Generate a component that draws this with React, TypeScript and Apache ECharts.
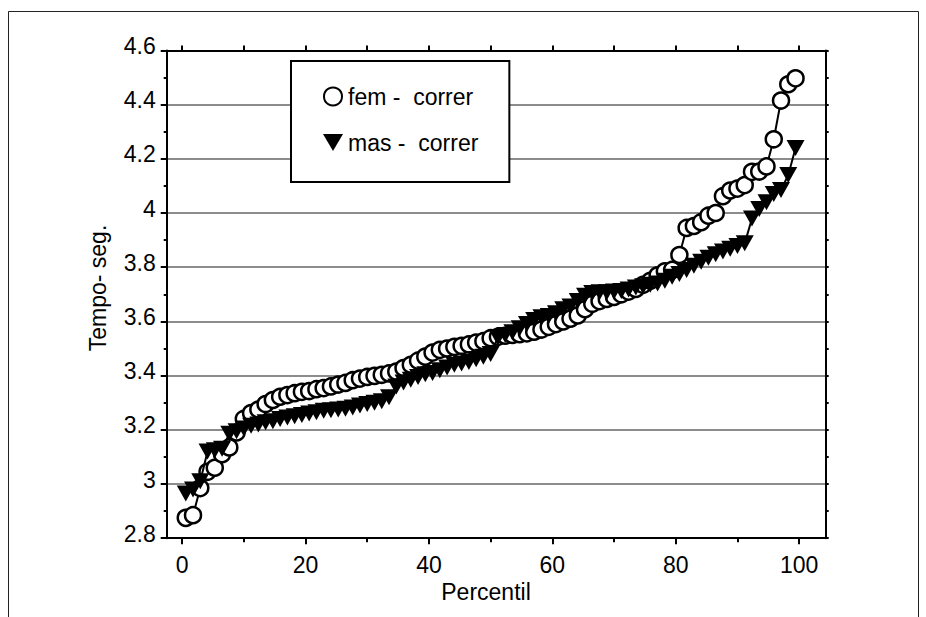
import { useEffect, useRef } from "react";
import * as echarts from "echarts";

// Tempo (s) per percentile rank
const femCorrer = [
  2.875, 2.885, 2.985, 3.045, 3.06, 3.11, 3.135, 3.19, 3.24, 3.262,
  3.275, 3.295, 3.31, 3.322, 3.328, 3.335, 3.34, 3.343, 3.35, 3.354,
  3.36, 3.367, 3.373, 3.383, 3.389, 3.395, 3.399, 3.403, 3.408, 3.415,
  3.428, 3.44, 3.455, 3.47, 3.485, 3.495, 3.5, 3.506, 3.51, 3.515,
  3.522, 3.527, 3.538, 3.543, 3.547, 3.55, 3.553, 3.556, 3.562, 3.57,
  3.58, 3.59, 3.6, 3.61, 3.622, 3.645, 3.665, 3.675, 3.683, 3.69,
  3.7, 3.71, 3.72, 3.735, 3.75, 3.77, 3.785, 3.79, 3.845, 3.945,
  3.952, 3.966, 3.99, 4.0, 4.062, 4.083, 4.09, 4.103, 4.152, 4.153,
  4.172, 4.272, 4.415, 4.475, 4.497,
];

const masCorrer = [
  2.965, 2.98, 3.01, 3.12, 3.125, 3.13, 3.185, 3.195, 3.205, 3.215,
  3.22, 3.228, 3.232, 3.24, 3.245, 3.25, 3.255, 3.26, 3.265, 3.27,
  3.272, 3.275, 3.278, 3.282, 3.29, 3.295, 3.3, 3.305, 3.32, 3.36,
  3.375, 3.385, 3.395, 3.405, 3.41, 3.42, 3.43, 3.44, 3.445, 3.45,
  3.46, 3.47, 3.48, 3.54, 3.55, 3.56, 3.575, 3.59, 3.605, 3.615,
  3.62, 3.63, 3.645, 3.655, 3.675, 3.695, 3.705, 3.708, 3.708, 3.71,
  3.712, 3.718, 3.725, 3.73, 3.735, 3.74, 3.75, 3.765, 3.775, 3.79,
  3.805, 3.82, 3.835, 3.848, 3.858, 3.868, 3.878, 3.888, 3.98, 4.015,
  4.04, 4.07, 4.085, 4.14, 4.24,
];

const xMajorTicks = [0, 20, 40, 60, 80, 100];
const xMinorTicks = [10, 30, 50, 70, 90];
const xTopTicks = [0, 10, 20, 30, 40, 50, 60, 70, 80, 90, 100];

const femName = "fem -  correr";
const masName = "mas -  correr";
const xTitle = "Percentil";
const yTitle = "Tempo- seg.";

// percentile rank of each sorted observation
const rank = (i: number, n: number) => ((i + 0.5) * 100) / n;

const FONT = "'Liberation Sans', Arial, Helvetica, sans-serif";

export default function App() {
  const ref = useRef<HTMLDivElement>(null);

  useEffect(() => {
    if (!ref.current) return;
    const chart = echarts.init(ref.current, null, { renderer: "svg" });

    const femData = femCorrer.map((v, i) => [rank(i, femCorrer.length), v]);
    const masData = masCorrer.map((v, i) => [rank(i, masCorrer.length), v]);

    const black = "#000";
    const xRange = { min: -2.5, max: 104.3 };

    chart.setOption({
      animation: false,
      backgroundColor: "#fff",
      textStyle: { fontFamily: FONT },
      grid: { left: 166.7, right: 100.3, top: 50.4, bottom: 78.8, containLabel: false },
      xAxis: [
        {
          type: "value",
          position: "bottom",
          ...xRange,
          axisLine: { show: true, onZero: false, lineStyle: { color: black, width: 2 } },
          axisTick: { show: true, customValues: xMajorTicks, length: 6, lineStyle: { color: black, width: 2 } },
          axisLabel: { show: true, customValues: xMajorTicks, fontSize: 23, color: black, margin: 15, fontFamily: FONT },
          splitLine: { show: false },
        },
        {
          type: "value",
          position: "top",
          ...xRange,
          axisLine: { show: true, onZero: false, lineStyle: { color: black, width: 2 } },
          axisTick: { show: true, customValues: xTopTicks, length: 5, lineStyle: { color: black, width: 2 } },
          axisLabel: { show: false },
          splitLine: { show: false },
        },
        {
          type: "value",
          position: "bottom",
          ...xRange,
          axisLine: { show: false },
          axisTick: { show: true, customValues: xMinorTicks, length: 4, lineStyle: { color: black, width: 2 } },
          axisLabel: { show: false },
          splitLine: { show: false },
        },
      ],
      yAxis: [
        {
          type: "value",
          position: "left",
          min: 2.8,
          max: 4.6,
          interval: 0.2,
          axisLine: { show: true, onZero: false, lineStyle: { color: black, width: 2 } },
          axisTick: { show: true, length: 6, lineStyle: { color: black, width: 2 } },
          minorTick: { show: true, splitNumber: 2, length: 3, lineStyle: { color: black, width: 2 } },
          axisLabel: {
            fontSize: 23,
            color: black,
            margin: 11,
            verticalAlign: "bottom",
            lineHeight: 9,
            fontFamily: FONT,
          },
          splitLine: {
            show: true,
            showMinLine: false,
            showMaxLine: false,
            lineStyle: { color: "#8c8c8c", width: 2 },
          },
        },
        {
          type: "value",
          position: "right",
          min: 2.8,
          max: 4.6,
          interval: 0.1,
          axisLine: { show: true, onZero: false, lineStyle: { color: black, width: 2 } },
          axisTick: { show: true, length: 3, lineStyle: { color: black, width: 2 } },
          axisLabel: { show: false },
          splitLine: { show: false },
        },
      ],
      legend: {
        show: true,
        orient: "vertical",
        left: 291,
        top: 61,
        padding: [24, 31, 28, 32],
        itemGap: 23,
        itemWidth: 20,
        itemHeight: 18,
        itemTextGap: 14,
        selectedMode: false,
        backgroundColor: "#fff",
        borderColor: black,
        borderWidth: 2,
        textStyle: { fontSize: 23, color: black, fontFamily: FONT },
        data: [
          { name: femName, icon: "circle" },
          { name: masName, icon: "path://M0,0L20,0L10,17Z" },
        ],
      },
      series: [
        {
          name: femName,
          type: "line",
          xAxisIndex: 0,
          yAxisIndex: 0,
          data: femData,
          symbol: "circle",
          symbolSize: 16,
          showAllSymbol: true,
          itemStyle: { color: "#fff", borderColor: black, borderWidth: 2.5 },
          lineStyle: { color: black, width: 2 },
          emphasis: { disabled: true },
          z: 3,
        },
        {
          name: masName,
          type: "line",
          xAxisIndex: 0,
          yAxisIndex: 0,
          data: masData,
          symbol: "triangle",
          symbolRotate: 180,
          symbolSize: [18, 16],
          showAllSymbol: true,
          itemStyle: { color: black },
          lineStyle: { color: black, width: 2 },
          emphasis: { disabled: true },
          z: 4,
        },
      ],
      graphic: [
        {
          type: "rect",
          silent: true,
          shape: { x: 8.5, y: 11.5, width: 910, height: 620 },
          style: { fill: "none", stroke: "#222", lineWidth: 1 },
          z: -1,
        },
        {
          type: "text",
          silent: true,
          x: 98,
          y: 288,
          rotation: Math.PI / 2,
          style: {
            text: yTitle,
            fontSize: 23,
            fontFamily: FONT,
            fill: black,
            align: "center",
            verticalAlign: "middle",
          },
        },
        {
          type: "text",
          silent: true,
          x: 486,
          y: 592,
          style: {
            text: xTitle,
            fontSize: 23,
            fontFamily: FONT,
            fill: black,
            align: "center",
            verticalAlign: "middle",
          },
        },
      ],
    });

    return () => {
      chart.dispose();
    };
  }, []);

  return (
    <div
      ref={ref}
      style={{ position: "fixed", left: 0, top: 0, width: 926, height: 617, background: "#fff" }}
    />
  );
}
